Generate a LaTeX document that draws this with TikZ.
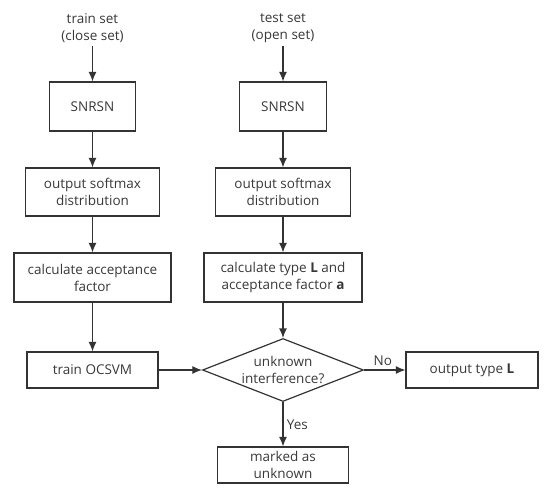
\documentclass[tikz,border=0pt]{standalone}
\usepackage{fontspec}
\setmainfont{Open Sans}
\usetikzlibrary{arrows.meta,shapes.geometric}
\definecolor{myline}{rgb}{0.2,0.2,0.2}
\definecolor{mytext}{rgb}{0.22,0.22,0.22}

\begin{document}
\begin{tikzpicture}[x=1pt, y=-1pt, >={Latex[length=9.5pt,width=8pt]},
  every node/.style={font=\fontsize{13.5}{17}\selectfont, text=mytext},
  box/.style={draw=myline, line width=1.2pt, align=center, inner sep=0pt, minimum height=49pt},
  flow/.style={->, draw=myline, line width=1.2pt}]
  \useasboundingbox (0,0) rectangle (550,495);

  % Draw the training branch
  \node[align=center] (trainin) at (92.5,28) {train set\\(close set)};
  \node[box, minimum width=86pt] (snrsnA) at (92.5,106.5) {SNRSN};
  \node[box, minimum width=134pt, minimum height=48pt] (softmaxA) at (92.5,192) {output softmax\\distribution};
  \node[box, minimum width=157pt] (calcA) at (92.5,277.5) {calculate acceptance\\factor};
  \node[box, minimum width=131pt, minimum height=36pt] (ocsvm) at (92.5,370) {train OCSVM};

  % Draw the test branch
  \node[align=center] (testin) at (283,28) {test set\\(open set)};
  \node[box, minimum width=87pt] (snrsnB) at (283,106.5) {SNRSN};
  \node[box, minimum width=135pt, minimum height=48pt] (softmaxB) at (283,192) {output softmax\\distribution};
  \node[box, minimum width=158pt] (calcB) at (283,277.5) {calculate type \textbf{L} and\\acceptance factor \textbf{a}};

  % The decision and its two outcomes
  \node[diamond, draw=myline, line width=1.2pt, minimum width=161pt, minimum height=63pt, inner sep=0pt] (check) at (283,370) {};
  \node[align=center] (checktxt) at (check.center) {unknown\\interference?};
  \node[box, minimum width=132pt, minimum height=36pt] (outL) at (472,370) {output type \textbf{L}};
  \node[box, minimum width=131pt, minimum height=36pt] (unknown) at (283,465) {marked as\\unknown};

  % Connect everything
  \draw[flow] (trainin) -- (snrsnA);
  \draw[flow] (snrsnA) -- (softmaxA);
  \draw[flow] (softmaxA) -- (calcA);
  \draw[flow] (calcA) -- (ocsvm);
  \draw[flow] (testin) -- (snrsnB);
  \draw[flow] (snrsnB) -- (softmaxB);
  \draw[flow] (softmaxB) -- (calcB);
  \draw[flow] (calcB) -- (check);
  \draw[flow] (ocsvm) -- (check);
  \draw[flow] (check) -- node[midway, above, xshift=-2pt] {No} (outL);
  \draw[flow] (check) -- node[midway, right] {Yes} (unknown);
\end{tikzpicture}
\end{document}
